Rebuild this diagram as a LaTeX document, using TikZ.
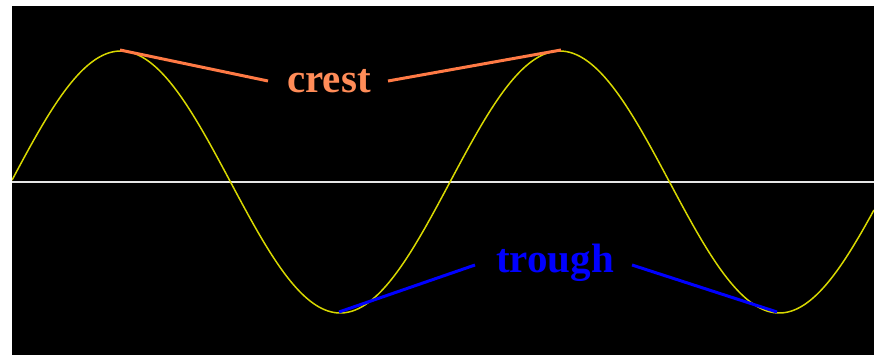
\documentclass[tikz,border=0pt]{standalone}
\usepackage{fontspec}
\setmainfont{Liberation Serif}
\definecolor{wavecol}{HTML}{D8D800}
\definecolor{crestline}{HTML}{FF7A45}
\definecolor{cresttext}{HTML}{FF8C58}
\definecolor{troughcol}{HTML}{0000FF}
\definecolor{axiscol}{HTML}{E6E6E6}
\tikzset{
  lbl/.style={font=\bfseries\fontsize{41}{41}\selectfont, anchor=base, inner sep=0pt},
  crestconn/.style={draw=crestline, line width=3pt},
  troughconn/.style={draw=troughcol, line width=3pt},
}
\begin{document}
\begin{tikzpicture}[x=1pt,y=-1pt]
\useasboundingbox (0,0) rectangle (874,355);
\fill[white] (0,0) rectangle (874,355);
\fill[black] (12,6) rectangle (874,355);
\begin{scope}
\clip (12,6) rectangle (874,355);
\draw[axiscol, line width=2pt] (12,182) -- (874,182);
\draw[wavecol, line width=1.5pt, domain=12:874, samples=400, smooth] plot (\x, {182 - 131*sin((\x-11)/439*360)});
\end{scope}
% named points
\coordinate (crestA) at (120,50);
\coordinate (crestB) at (561,50);
\coordinate (troughA) at (339,312);
\coordinate (troughB) at (777,312);
\coordinate (crestL) at (268,81);
\coordinate (crestR) at (388,81);
\coordinate (troughL) at (475,265);
\coordinate (troughR) at (632,265);
\node[lbl, text=cresttext] (crest) at (329,93) {crest};
\node[lbl, text=troughcol] (trough) at (555,272) {trough};
\draw[crestconn] (crestA) -- (crestL);
\draw[crestconn] (crestR) -- (crestB);
\draw[troughconn] (troughA) -- (troughL);
\draw[troughconn] (troughR) -- (troughB);
\end{tikzpicture}
\end{document}
